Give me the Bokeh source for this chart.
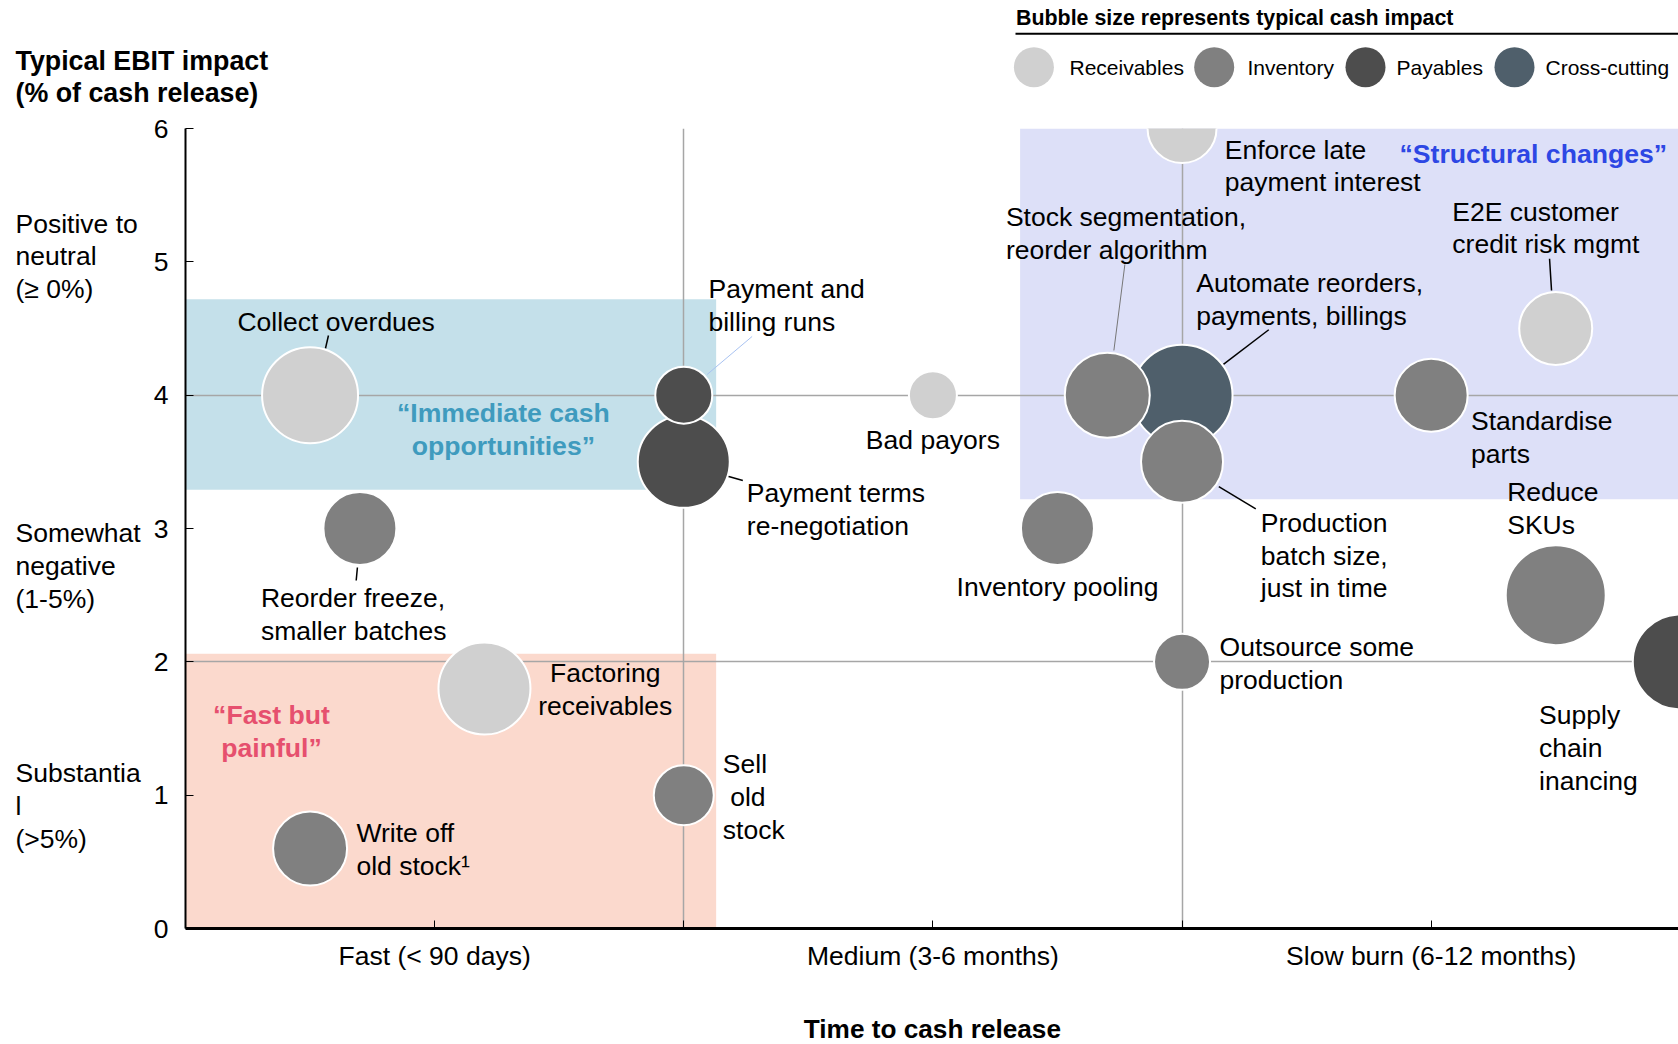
from bokeh.plotting import figure
from bokeh.layouts import row
from bokeh.models import Range1d, FixedTicker, ColumnDataSource
from bokeh.core.properties import value
from bokeh.embed import file_html
from bokeh.resources import INLINE

FONT = "Liberation Sans"

# ---------------- data ----------------
levers = [
    "Collect overdues",
    "Payment terms\nre-negotiation",
    "Payment and\nbilling runs",
    "Bad payors",
    "Reorder freeze,\nsmaller batches",
    "Factoring\nreceivables",
    "Write off\nold stock\u00b9",
    "Sell\n\u00a0old\nstock",
    "Enforce late\npayment interest",
    "Automate reorders,\npayments, billings",
    "Stock segmentation,\nreorder algorithm",
    "Production\nbatch size,\njust in time",
    "Inventory pooling",
    "Outsource some\nproduction",
    "Standardise\nparts",
    "E2E customer\ncredit risk mgmt",
    "Reduce\nSKUs",
    "Supply\nchain\ninancing",
]
lever_category = [
    "Receivables", "Payables", "Payables", "Receivables", "Inventory",
    "Receivables", "Inventory", "Inventory", "Receivables", "Cross-cutting",
    "Inventory", "Inventory", "Inventory", "Inventory", "Inventory",
    "Receivables", "Inventory", "Payables",
]
time_to_cash = [0.5, 2.0, 2.0, 3.0, 0.7, 1.2, 0.5, 2.0, 4.0, 4.0,
                3.7, 4.0, 3.5, 4.0, 5.0, 5.5, 5.5, 6.0]
ebit_impact = [4.0, 3.5, 4.0, 4.0, 3.0, 1.8, 0.6, 1.0, 6.0, 4.0,
               4.0, 3.5, 3.0, 2.0, 4.0, 4.5, 2.5, 2.0]
cash_impact = [96, 92, 57, 48, 73, 92, 74, 60, 69, 101,
               85, 82, 73, 56, 73, 73, 100, 95]

categories = ["Receivables", "Inventory", "Payables", "Cross-cutting"]
category_colors = ["#d0d0d0", "#808080", "#4d4d4d", "#4f5f6b"]

x_tick_values = [1, 2, 3, 4, 5]
x_tick_labels = ["Fast (< 90 days)", "", "Medium (3-6 months)", "", "Slow burn (6-12 months)"]
x_title = "Time to cash release"
y_title = ["Typical EBIT impact", "(% of cash release)"]
y_tick_values = [0, 1, 2, 3, 4, 5, 6]
y_band_labels = ["Positive to\nneutral\n(\u2265 0%)", "Somewhat\nnegative\n(1-5%)",
                 "Substantia\nl\n(>5%)"]
y_band_centers = [5.04, 2.72, 0.92]
legend_title = "Bubble size represents typical cash impact"

zone_names = ["\u201cImmediate cash\nopportunities\u201d", "\u201cFast but\npainful\u201d",
              "\u201cStructural changes\u201d"]
zone_left = [0.0, 0.0, 3.35]
zone_right = [2.13, 2.13, 6.5]
zone_bottom = [3.29, 0.0, 3.22]
zone_top = [4.72, 2.06, 6.0]

# ---------------- layout / style ----------------
W = 1678
HEADER_H = 110
BODY_H = 878
FOOTER_H = 1044 - HEADER_H - BODY_H
LEFT_W = 150
FRAME_L = 184          # page x of the frame's left edge
FRAME_T = 128          # page y of the frame's top edge
FRAME_H = 800
PX_X = 249.3           # px per x unit
PX_Y = FRAME_H / 6.0   # px per y unit
X_END = (W - FRAME_L) / PX_X
BORDER_B = BODY_H - (FRAME_T - HEADER_H) - FRAME_H
FS = "26.5px"
LH = 1.09

zone_fill = ["#c4e0ea", "#fbd9cd", "#dde0f8"]
zone_text_color = ["#3f9bbe", "#e6506e", "#2d47e4"]
zone_text_pos = [(1.276, 3.74), (0.345, 1.48), (5.41, 5.81)]

# label offsets (px) from bubble centre, and alignment
label_off = [(-72.6, -73, "left"), (63.1, 47.9, "left"), (24.7, -89.5, "left"),
             (0, 45.3, "center"), (-99, 85.7, "left"), (120.8, 1.2, "center"),
             (46.4, 1, "left"), (39.1, 2, "left"), (42.8, 37.5, "left"),
             (14.2, -95.8, "left"), (-101.4, -161.4, "left"), (78.8, 93.7, "left"),
             (0, 58.7, "center"), (37.5, 1.6, "left"), (39.9, 42, "left"),
             (-103.4, -100.5, "left"), (-48.5, -87, "left"), (-141.2, 86.3, "left")]
# leader lines: bubble index, dx0, dy0, dx1, dy1 (px), colour, width
leaders = [(0, 18.4, -59.7, 15.4, -46.7, "black", 1.5),
           (2, 68.4, -58.7, 23.4, -20.7, "#a9c3f2", 1),
           (1, 44.1, 14.4, 59.1, 18.7, "black", 1.5),
           (4, -2.5, 39, -3.7, 52, "black", 1.5),
           (10, 17.6, -130.7, 6.6, -44.7, "#777777", 1),
           (9, 86.8, -65.4, 41.4, -30.7, "black", 1.5),
           (11, 36.8, 24.7, 73.8, 47, "black", 1.5),
           (15, -6.2, -69.7, -4.2, -38, "black", 1.5)]


def strip(width, height, **kw):
    f = figure(width=width, height=height, x_axis_type=None, y_axis_type=None,
               toolbar_location=None, output_backend="svg", **kw)
    f.outline_line_color = None
    f.grid.visible = False
    return f


# ---------------- header (page pixel coordinates) ----------------
h = strip(W, HEADER_H, x_range=Range1d(0, W), y_range=Range1d(HEADER_H, 0),
          min_border=0, min_border_left=0, min_border_right=0,
          min_border_top=0, min_border_bottom=0)
h.text(x=[15, 15], y=[60, 92], text=y_title, text_font=value(FONT),
       text_font_size="26.8px", text_font_style="bold", text_baseline="middle")
h.text(x=[1015.5], y=[17], text=[legend_title], text_font=value(FONT),
       text_font_size="21.4px", text_font_style="bold", text_baseline="middle")
h.segment(x0=[1015], y0=[33.3], x1=[W], y1=[33.3], line_color="black", line_width=2)
leg_x = [1033.4, 1213.7, 1365, 1514]
leg_text_x = [1069, 1247, 1396, 1545]
h.scatter(x=leg_x, y=[66.7] * 4, size=40, fill_color=category_colors, line_color=None)
h.text(x=leg_text_x, y=[66.7] * 4, text=categories, text_font=value(FONT),
       text_font_size="21px", text_baseline="middle")

# ---------------- left strip with band labels ----------------
left = strip(LEFT_W, BODY_H, x_range=Range1d(0, LEFT_W), y_range=Range1d(0, 6),
             min_border_left=0, min_border_right=0,
             min_border_top=FRAME_T - HEADER_H, min_border_bottom=BORDER_B)
left.text(x=[15] * 3, y=y_band_centers, text=y_band_labels, text_font=value(FONT),
          text_font_size=FS, text_baseline="middle", text_align="left",
          text_line_height=LH)

# ---------------- main figure ----------------
p = figure(width=W - LEFT_W, height=BODY_H, x_range=Range1d(0, X_END), y_range=Range1d(0, 6),
           toolbar_location=None, output_backend="svg",
           min_border_left=FRAME_L - LEFT_W, min_border_right=0,
           min_border_top=FRAME_T - HEADER_H, min_border_bottom=BORDER_B)
p.outline_line_color = None
p.background_fill_color = "white"

p.quad(left=zone_left, right=zone_right, bottom=zone_bottom, top=zone_top,
       fill_color=zone_fill, line_color=None, level="image")

p.xgrid.ticker = FixedTicker(ticks=[2, 4])
p.ygrid.ticker = FixedTicker(ticks=[2, 4, 6])
p.grid.grid_line_color = "#a6a6a6"
p.grid.grid_line_width = 1.5

p.xaxis.ticker = FixedTicker(ticks=x_tick_values)
p.xaxis.major_label_overrides = {t: l for t, l in zip(x_tick_values, x_tick_labels)}
p.yaxis.ticker = FixedTicker(ticks=y_tick_values)
for ax in (p.xaxis, p.yaxis):
    ax.major_tick_in = 8
    ax.major_tick_out = 0
    ax.minor_tick_in = 0
    ax.minor_tick_out = 0
    ax.major_tick_line_color = "black"
    ax.axis_line_color = "black"
    ax.major_label_text_font = FONT
    ax.major_label_text_font_size = FS
    ax.major_label_text_color = "black"
p.xaxis.axis_line_width = 3
p.yaxis.axis_line_width = 2
p.xaxis.major_label_standoff = 12
p.yaxis.major_label_standoff = 17

# zones text
for name, col, (zx, zy) in zip(zone_names, zone_text_color, zone_text_pos):
    p.text(x=[zx], y=[zy], text=[name], text_font=value(FONT), text_font_size="26.6px",
           text_font_style="bold", text_color=col, text_align="center",
           text_baseline="middle", text_line_height=LH)

# leader lines
seg = dict(x0=[], y0=[], x1=[], y1=[], c=[], w=[])
for i, dx0, dy0, dx1, dy1, c, w in leaders:
    seg["x0"].append(time_to_cash[i] + dx0 / PX_X)
    seg["y0"].append(ebit_impact[i] - dy0 / PX_Y)
    seg["x1"].append(time_to_cash[i] + dx1 / PX_X)
    seg["y1"].append(ebit_impact[i] - dy1 / PX_Y)
    seg["c"].append(c)
    seg["w"].append(w)
p.segment(x0="x0", y0="y0", x1="x1", y1="y1", line_color="c", line_width="w",
          source=ColumnDataSource(seg))

# bubbles
color_map = dict(zip(categories, category_colors))
src = ColumnDataSource(dict(x=time_to_cash, y=ebit_impact, s=cash_impact,
                            c=[color_map[k] for k in lever_category]))
p.scatter(x="x", y="y", size="s", fill_color="c", line_color="white", line_width=2,
          source=src)

# bubble labels
for align in ("left", "center"):
    idx = [i for i, o in enumerate(label_off) if o[2] == align]
    lsrc = ColumnDataSource(dict(
        x=[time_to_cash[i] for i in idx], y=[ebit_impact[i] for i in idx],
        t=[levers[i] for i in idx], dx=[label_off[i][0] for i in idx],
        dy=[label_off[i][1] for i in idx]))
    p.text(x="x", y="y", text="t", x_offset="dx", y_offset="dy", source=lsrc,
           text_font=value(FONT), text_font_size=FS, text_color="black",
           text_align=align, text_baseline="middle", text_line_height=LH)

# ---------------- footer with the x-axis title ----------------
foot = strip(W, FOOTER_H, x_range=Range1d(0, W), y_range=Range1d(FOOTER_H, 0),
             min_border=0, min_border_left=0, min_border_right=0,
             min_border_top=0, min_border_bottom=0)
foot.text(x=[FRAME_L + 3 * PX_X], y=[1028 - HEADER_H - BODY_H], text=[x_title],
          text_font=value(FONT), text_font_size="26.2px", text_font_style="bold",
          text_align="center", text_baseline="middle")

body = row(left, p, spacing=0)
open("out.html", "w").write(file_html((h, body, foot), INLINE))
